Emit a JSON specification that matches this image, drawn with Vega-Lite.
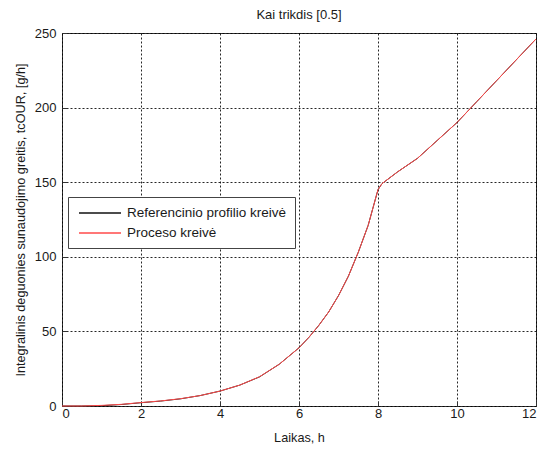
{
  "$schema": "https://vega.github.io/schema/vega-lite/v6.json",
  "width": 474,
  "height": 373,
  "autosize": {"type": "none"},
  "padding": {"left": 62, "top": 33, "right": 5, "bottom": 44},
  "background": "white",
  "config": {
    "font": "Liberation Sans",
    "view": {"stroke": "#333", "strokeWidth": 1},
    "axis": {
      "labelFont": "Liberation Sans", "titleFont": "Liberation Sans",
      "labelFontSize": 13, "titleFontSize": 12.7, "titleFontWeight": "normal",
      "labelColor": "#1a1a1a", "titleColor": "#1a1a1a",
      "grid": true, "gridColor": "#000", "gridDash": [2, 2], "gridOpacity": 0.85,
      "domain": false, "ticks": true, "tickSize": -5, "tickColor": "#333"
    }
  },
  "title": {"text": "Kai trikdis [0.5]", "fontSize": 13, "fontWeight": "normal", "color": "#1a1a1a", "font": "Liberation Sans", "offset": 5},
  "data": {"values": [
    {"t": 0, "v": 0, "s": "Referencinio profilio kreivė"},
    {"t": 0.5, "v": 0, "s": "Referencinio profilio kreivė"},
    {"t": 1, "v": 0.2, "s": "Referencinio profilio kreivė"},
    {"t": 1.5, "v": 1.0, "s": "Referencinio profilio kreivė"},
    {"t": 2, "v": 2.2, "s": "Referencinio profilio kreivė"},
    {"t": 2.5, "v": 3.3, "s": "Referencinio profilio kreivė"},
    {"t": 3, "v": 4.8, "s": "Referencinio profilio kreivė"},
    {"t": 3.5, "v": 7, "s": "Referencinio profilio kreivė"},
    {"t": 4, "v": 10, "s": "Referencinio profilio kreivė"},
    {"t": 4.5, "v": 14, "s": "Referencinio profilio kreivė"},
    {"t": 5, "v": 19.5, "s": "Referencinio profilio kreivė"},
    {"t": 5.5, "v": 28, "s": "Referencinio profilio kreivė"},
    {"t": 6, "v": 39, "s": "Referencinio profilio kreivė"},
    {"t": 6.25, "v": 46, "s": "Referencinio profilio kreivė"},
    {"t": 6.5, "v": 54, "s": "Referencinio profilio kreivė"},
    {"t": 6.75, "v": 63, "s": "Referencinio profilio kreivė"},
    {"t": 7, "v": 74, "s": "Referencinio profilio kreivė"},
    {"t": 7.25, "v": 87, "s": "Referencinio profilio kreivė"},
    {"t": 7.5, "v": 103, "s": "Referencinio profilio kreivė"},
    {"t": 7.75, "v": 121, "s": "Referencinio profilio kreivė"},
    {"t": 8, "v": 145, "s": "Referencinio profilio kreivė"},
    {"t": 8.1, "v": 149, "s": "Referencinio profilio kreivė"},
    {"t": 8.5, "v": 157, "s": "Referencinio profilio kreivė"},
    {"t": 9, "v": 166, "s": "Referencinio profilio kreivė"},
    {"t": 9.5, "v": 178, "s": "Referencinio profilio kreivė"},
    {"t": 10, "v": 190, "s": "Referencinio profilio kreivė"},
    {"t": 10.5, "v": 204, "s": "Referencinio profilio kreivė"},
    {"t": 11, "v": 218, "s": "Referencinio profilio kreivė"},
    {"t": 11.5, "v": 232, "s": "Referencinio profilio kreivė"},
    {"t": 12, "v": 246, "s": "Referencinio profilio kreivė"},
    {"t": 0, "v": 0, "s": "Proceso kreivė"},
    {"t": 0.5, "v": 0, "s": "Proceso kreivė"},
    {"t": 1, "v": 0.4, "s": "Proceso kreivė"},
    {"t": 1.5, "v": 1.1, "s": "Proceso kreivė"},
    {"t": 2, "v": 2.3, "s": "Proceso kreivė"},
    {"t": 2.5, "v": 3.4, "s": "Proceso kreivė"},
    {"t": 3, "v": 4.9, "s": "Proceso kreivė"},
    {"t": 3.5, "v": 7, "s": "Proceso kreivė"},
    {"t": 4, "v": 10, "s": "Proceso kreivė"},
    {"t": 4.5, "v": 14, "s": "Proceso kreivė"},
    {"t": 5, "v": 19.6, "s": "Proceso kreivė"},
    {"t": 5.5, "v": 28, "s": "Proceso kreivė"},
    {"t": 6, "v": 39, "s": "Proceso kreivė"},
    {"t": 6.25, "v": 46, "s": "Proceso kreivė"},
    {"t": 6.5, "v": 54, "s": "Proceso kreivė"},
    {"t": 6.75, "v": 63, "s": "Proceso kreivė"},
    {"t": 7, "v": 74, "s": "Proceso kreivė"},
    {"t": 7.25, "v": 87, "s": "Proceso kreivė"},
    {"t": 7.5, "v": 103, "s": "Proceso kreivė"},
    {"t": 7.75, "v": 121, "s": "Proceso kreivė"},
    {"t": 8, "v": 145, "s": "Proceso kreivė"},
    {"t": 8.1, "v": 149, "s": "Proceso kreivė"},
    {"t": 8.5, "v": 157, "s": "Proceso kreivė"},
    {"t": 9, "v": 166, "s": "Proceso kreivė"},
    {"t": 9.5, "v": 178, "s": "Proceso kreivė"},
    {"t": 10, "v": 190, "s": "Proceso kreivė"},
    {"t": 10.5, "v": 204, "s": "Proceso kreivė"},
    {"t": 11, "v": 218, "s": "Proceso kreivė"},
    {"t": 11.5, "v": 232, "s": "Proceso kreivė"},
    {"t": 12, "v": 246, "s": "Proceso kreivė"}
  ]},
  "mark": {"type": "line", "strokeWidth": 1},
  "encoding": {
    "x": {"field": "t", "type": "quantitative", "title": "Laikas, h",
      "scale": {"domain": [0, 12], "nice": false, "zero": false},
      "axis": {"values": [0, 2, 4, 6, 8, 10, 12], "labelPadding": 6, "titlePadding": 11}},
    "y": {"field": "v", "type": "quantitative", "title": "Integralinis deguonies sunaudojimo greitis, tcOUR, [g/h]",
      "scale": {"domain": [0, 250], "nice": false},
      "axis": {"values": [0, 50, 100, 150, 200, 250], "labelPadding": 11, "titlePadding": 7}},
    "color": {"field": "s", "type": "nominal",
      "scale": {"domain": ["Referencinio profilio kreivė", "Proceso kreivė"], "range": ["#111111", "#ff4a4a"]},
      "legend": {"title": null, "orient": "none", "legendX": 6, "legendY": 164,
        "symbolType": "M-3,0H3", "symbolSize": 196, "symbolStrokeWidth": 1.5, "symbolOffset": 16,
        "labelFontSize": 13.5, "labelFont": "Liberation Sans", "labelColor": "#1a1a1a",
        "fillColor": "white", "strokeColor": "#444", "padding": 8, "rowPadding": 5, "labelOffset": 19}},
    "order": {"field": "s", "sort": "descending"}
  }
}
